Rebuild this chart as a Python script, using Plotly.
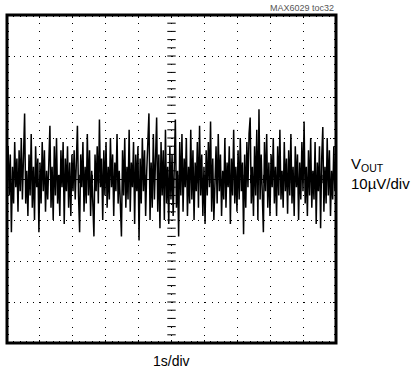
"""Output noise scope capture (MAX6029 toc32)."""

import numpy as np
import plotly.graph_objects as go

# output noise, microvolts, read across the 10 s screen (30 samples per division)
vout_uv = [
    2, 8, -4, 6, -13, 3, -6, 9, -2, 5, -8, 7, -3, 10, -5, 4, 16, -6, 2, -9, 6, -4, 11, -7, 3, -10, 8, -2, 5, -13,
    4, -6, 9, -3, 7, -8, 2, -5, 6, 13, -7, 3, -10, 8, -4, 10, -6, 1, -9, 7, -2, 9, -11, 5, -3, 8, -7, 4, -9, 6,
    -3, 7, -5, 2, 13, -4, -13, 6, -2, 9, -8, 3, -6, 11, -4, 7, -9, 2, -5, -14, 6, -3, 8, -6, 14.5, -2, 5, -10, 7, -4,
    9, -7, 3, -5, 10, -2, 6, -9, 4, -3, 11, -6, 2, -8, -14, 7, -4, 10, -7, 3, -5, 12, -8, 4, -2, 9, -11, 6, -3, 8,
    -15, 5, -6, 10, -3, 7, -9, 2, 8, 16, -10, 4, -7, 11, -5, 3, 15, -8, 6, -12, 9, -4, 7, -10, 12, -6, 3, -11, 8, -5,
    6, -9, 4, 14.5, -7, 2, -14, 9, -4, 11, -8, 5, -2, 10, -9, 3, -6, 12, -5, 7, -10, 4, -3, 9, -7, 13, -4, 6, -9, 3,
    -11, 7, -4, 9, -2, 14, -8, 5, -10, 3, 8, -6, 11, -3, 6, -9, 2, -5, 10, -7, 4, -2, 8, -11, 5, -4, 12, -6, 3, -8,
    7, -5, 10, -3, 4, -13.5, 6, -7, 9, -2, 11, 15, -6, 3, -9, 8, -4, 12, -10, 17, -5, 6, -8, -13, 9, -3, 11, -7, 4, -9,
    6, -2, 10, -6, 3, -9, 8, -4, 12, -5, 2, -7, 9, -3, 5, -8.5, 7, -4, 11, -6, 3, -9, 8, -2, 6, -10, 4, -5, 9, -3,
    14, -6, 3, -9, 7, -4, 10, -7, 2, -5, 9, -11, 4, -3, 8, -12, 5, 12.7, -8, 3, -6, 10, -4, 7, -9, 2, -5, 8, -3, 4,
]

# screen: 10 divisions of 1 s, 8 divisions of 10 uV
time_div_s = 1
volt_div_uv = 10
n_xdiv, n_ydiv = 10, 8

t = np.linspace(0, n_xdiv * time_div_s, len(vout_uv))
x_half = n_xdiv * time_div_s / 2
y_half = n_ydiv * volt_div_uv / 2

fig = go.Figure()

# centre graticule tick marks
minor_x = np.arange(0, n_xdiv * time_div_s + 1e-9, time_div_s / 5)
minor_y = np.arange(-y_half, y_half + 1e-9, volt_div_uv / 5)
fig.add_trace(go.Scatter(
    x=[x_half] * len(minor_y), y=minor_y, mode="markers",
    marker=dict(symbol="line-ew", size=6, line=dict(width=1, color="black")),
    hoverinfo="skip", showlegend=False,
))
fig.add_trace(go.Scatter(
    x=minor_x, y=[0] * len(minor_x), mode="markers",
    marker=dict(symbol="line-ns", size=6, line=dict(width=1, color="black")),
    hoverinfo="skip", showlegend=False,
))

fig.add_trace(go.Scatter(
    x=t, y=vout_uv, mode="lines",
    line=dict(color="black", width=1.5),
    hoverinfo="skip", showlegend=False,
))

axis_common = dict(
    showticklabels=False, showline=False,
    showgrid=True, gridcolor="black", gridwidth=1,
    ticks="inside", ticklen=3, tickcolor="black", mirror="allticks",
)
fig.update_xaxes(
    range=[0, n_xdiv * time_div_s], dtick=time_div_s, tick0=0,
    griddash="1px,7.2px", zeroline=False,
    minor=dict(dtick=time_div_s / 5, ticks="inside", ticklen=2, tickcolor="black", showgrid=False),
    **axis_common,
)
fig.update_yaxes(
    range=[-y_half, y_half], dtick=volt_div_uv, tick0=0,
    griddash="1px,5.6px", zeroline=True, zerolinecolor="black", zerolinewidth=1,
    minor=dict(dtick=volt_div_uv / 5, ticks="inside", ticklen=2, tickcolor="black", showgrid=False),
    **axis_common,
)

fig.add_shape(type="rect", xref="paper", yref="paper", x0=0, y0=0, x1=1, y1=1,
              line=dict(color="black", width=3), layer="above")

font = "Liberation Sans, Arial, sans-serif"
fig.add_annotation(text="MAX6029 toc32", xref="paper", yref="paper", x=1.0, y=1.0,
                   xanchor="right", yanchor="bottom", showarrow=False,
                   font=dict(size=9, color="#555", family=font))
fig.add_annotation(text="V<sub>OUT</sub>", xref="paper", yref="paper",
                   x=1.04, y=0.545, xanchor="left", yanchor="middle",
                   showarrow=False, font=dict(size=15, color="black", family=font))
fig.add_annotation(text="10µV/div", xref="paper", yref="paper",
                   x=1.04, y=0.485, xanchor="left", yanchor="middle",
                   showarrow=False, font=dict(size=15, color="black", family=font))
fig.add_annotation(text="1s/div", xref="paper", yref="paper", x=0.5, y=-0.055,
                   xanchor="center", yanchor="middle", showarrow=False,
                   font=dict(size=14, color="black", family=font))

fig.update_layout(
    width=414, height=380,
    margin=dict(l=7, r=78, t=15, b=37),
    paper_bgcolor="white", plot_bgcolor="white",
)

# page body has a default 8px margin; drop it so the figure sits at the window origin
fig.write_html("out.html", config={"displayModeBar": False},
               post_script="document.body.style.margin='0';")
